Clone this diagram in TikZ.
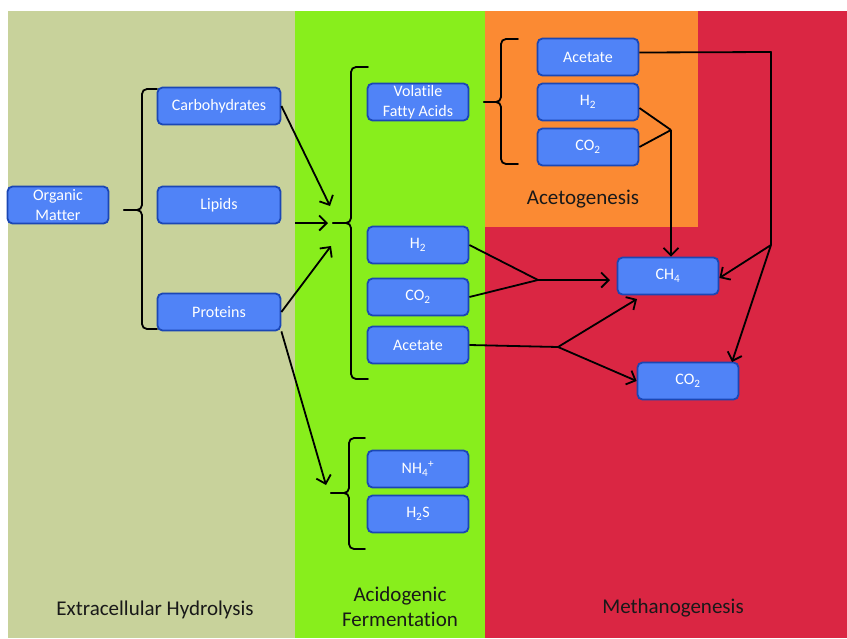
\documentclass[tikz,border=0pt]{standalone}
\usepackage{fontspec}
\setmainfont{Carlito}[Ligatures=NoCommon]
\usepackage{tikz}
\usetikzlibrary{arrows.meta}
\definecolor{hydroOlive}{HTML}{C8D29B}
\definecolor{acidoGreen}{HTML}{88EE1C}
\definecolor{acetoOrange}{HTML}{FB8A33}
\definecolor{methRed}{HTML}{DA2643}
\definecolor{boxBlue}{HTML}{5083F7}
\definecolor{boxEdge}{HTML}{1B47B5}

\tikzset{
  species/.style={draw=boxEdge, fill=boxBlue, line width=1.8pt, rounded corners=5pt,
    text=white, font=\fontsize{16}{19.5}\selectfont, align=center,
    minimum width=101pt, minimum height=37pt, inner sep=1pt},
  wide/.style={minimum width=123pt},
  stagename/.style={font=\fontsize{21}{25}\selectfont, text=black!90, align=center},
  bracket/.style={line width=1.8pt, rounded corners=5pt, line cap=round},
  flow/.style={line width=1.8pt, -{Straight Barb[length=7.5pt,width=15pt]}},
  link/.style={line width=1.8pt}
}

% curly bracket opening to the right: end x, spine x, tip x, top y, mid y, bottom y
\newcommand{\drawbrace}[6]{%
  \draw[bracket] (#1,#4) -- (#2,#4) -- (#2,#5) -- (#3,#5);
  \draw[bracket] (#1,#6) -- (#2,#6) -- (#2,#5) -- (#3,#5);
}

\begin{document}
\begin{tikzpicture}[x=1pt, y=-1pt]
  \useasboundingbox (0,0) rectangle (847,638);
  % stage backgrounds
  \fill[hydroOlive] (8,11) rectangle (295,638);
  \fill[acidoGreen] (295,11) rectangle (485,638);
  \fill[methRed] (485,11) rectangle (847,638);
  \fill[acetoOrange] (485,11) rectangle (698,227);

  % hydrolysis
  \node[species] (organic) at (58,205) {Organic\\Matter};
  \node[species, wide] (carbo) at (219,106) {Carbohydrates};
  \node[species, wide] (lipids) at (219,205) {Lipids};
  \node[species, wide] (proteins) at (219,312) {Proteins};

  % acidogenic fermentation
  \node[species] (vfa) at (418,102) {Volatile\\Fatty Acids};
  \node[species] (hA) at (418,245) {H\textsubscript{2}};
  \node[species] (coA) at (418,297) {CO\textsubscript{2}};
  \node[species] (acA) at (418,345) {Acetate};
  \node[species] (nh) at (418,469) {NH\textsubscript{4}\textsuperscript{+}};
  \node[species] (hs) at (418,514) {H\textsubscript{2}S};

  % acetogenesis
  \node[species] (acB) at (588,57) {Acetate};
  \node[species] (hB) at (588,102) {H\textsubscript{2}};
  \node[species] (coB) at (588,147) {CO\textsubscript{2}};

  % methanogenesis
  \node[species] (ch) at (668,276) {CH\textsubscript{4}};
  \node[species] (coM) at (688,381) {CO\textsubscript{2}};

  % stage names
  \node[stagename] (lblHydro) at (155,610) {Extracellular Hydrolysis};
  \node[stagename] (lblAcido) at (400,607) {Acidogenic\\Fermentation};
  \node[stagename] (lblAceto) at (583,199) {Acetogenesis};
  \node[stagename] (lblMeth) at (673,608) {Methanogenesis};

  % brackets
  \drawbrace{157}{142}{124}{89}{210}{329}
  \drawbrace{368}{351}{333}{67}{223}{379}
  \drawbrace{518}{501}{484}{39}{102}{164}
  \drawbrace{365}{349}{331}{438}{493}{549}

  % junctions and free ends
  \coordinate (lipOut) at (295,223);
  \coordinate (fermIn) at (328,223);
  \coordinate (carbIn) at (330,206);
  \coordinate (protIn) at (331,246);
  \coordinate (nitIn) at (326,485);
  \coordinate (jGas) at (538,280);
  \coordinate (jAce) at (558,347);
  \coordinate (jAcB) at (671,130);
  \coordinate (jTop) at (771,52);
  \coordinate (jSplit) at (771,245);

  \draw[flow] (carbo.east) -- (carbIn);
  \draw[flow] (lipOut) -- (fermIn);
  \draw[flow] (proteins.east) -- (protIn);
  \draw[flow] (proteins.south east) -- (nitIn);

  \draw[link] (hA.east) -- (jGas);
  \draw[link] (coA.east) -- (jGas);
  \draw[flow] (jGas) -- (610,280);

  \draw[link] (acA.east) -- (jAce);
  \draw[flow] (jAce) -- (637,299);
  \draw[flow] (jAce) -- (coM.west);

  \draw[link] ([yshift=-6pt]hB.east) -- (jAcB);
  \draw[link] (coB.east) -- (jAcB);
  \draw[flow] (jAcB) -- (jAcB |- ch.north);

  \draw[link, line join=round] ([yshift=4.5pt]acB.east) -- (jTop) -- (jSplit);
  \draw[flow] (jSplit) -- ([yshift=-2pt]ch.east);
  \draw[flow] (jSplit) -- (732,362);
\end{tikzpicture}
\end{document}
